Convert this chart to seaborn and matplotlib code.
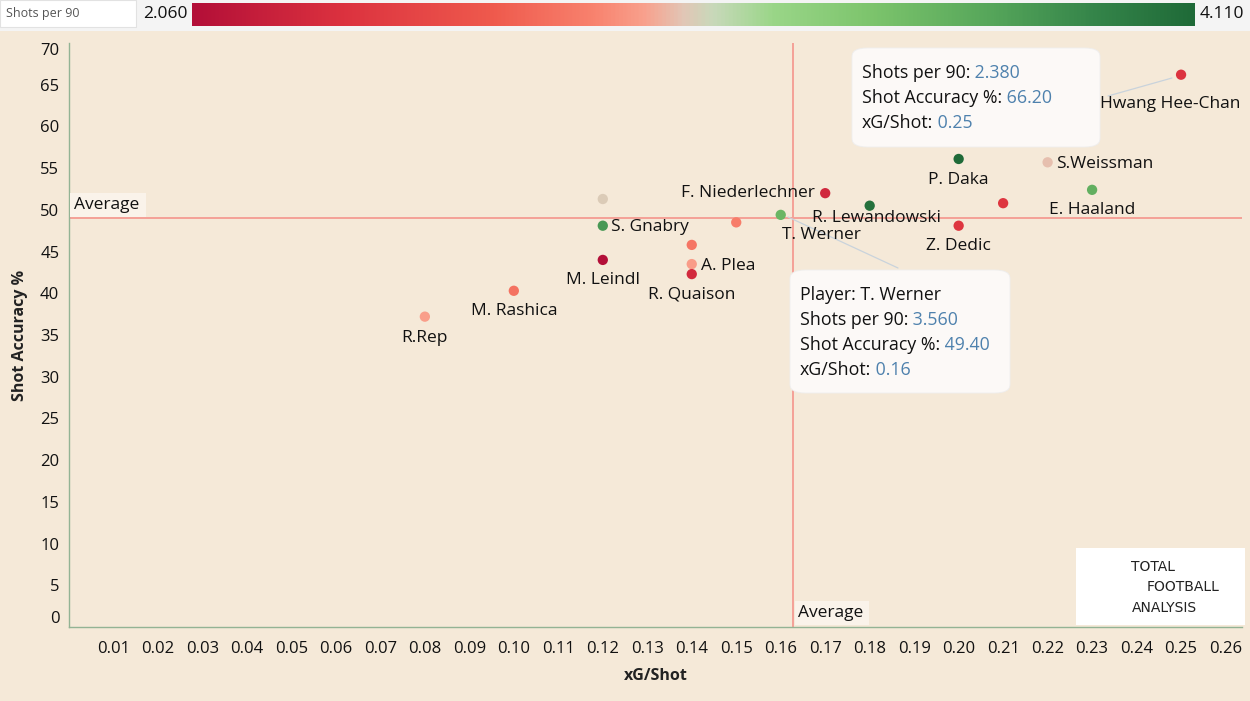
import numpy as np
import pandas as pd
import matplotlib.pyplot as plt
import seaborn as sns
from matplotlib.colors import LinearSegmentedColormap
from matplotlib.patches import FancyBboxPatch, Rectangle
from matplotlib.lines import Line2D

# Data
players = ['R.Rep', 'M. Rashica', 'M. Leindl', 'S. Gnabry', None, 'A. Plea', None,
           'R. Quaison', None, 'T. Werner', 'F. Niederlechner', 'R. Lewandowski',
           'P. Daka', 'Z. Dedic', None, 'S.Weissman', 'E. Haaland', 'Hwang Hee-Chan']
xg_per_shot = [0.08, 0.10, 0.12, 0.12, 0.12, 0.14, 0.14, 0.14, 0.15, 0.16, 0.17,
               0.18, 0.20, 0.20, 0.21, 0.22, 0.23, 0.25]
shot_accuracy = [37.2, 40.3, 44.0, 48.1, 51.3, 43.5, 45.8, 42.3, 48.5, 49.4, 52.0,
                 50.5, 56.1, 48.1, 50.8, 55.7, 52.4, 66.2]
shots_per_90 = [2.98, 2.80, 2.06, 3.78, 3.08, 2.97, 2.82, 2.30, 2.86, 3.56, 2.28,
                4.05, 4.11, 2.40, 2.40, 3.05, 3.62, 2.38]
avg_xg = 0.1628
avg_acc = 49.0
spg_min, spg_max = 2.060, 4.110
x_ticks = [round(0.01 * i, 2) for i in range(1, 27)]
y_ticks = list(range(0, 75, 5))

# label offsets in pixels (dx, dy, ha)
label_pos = {
    'R.Rep': (0, -21, 'center'), 'M. Rashica': (0, -20, 'center'),
    'M. Leindl': (0, -20, 'center'), 'S. Gnabry': (8, -1, 'left'),
    'A. Plea': (9, -2, 'left'), 'R. Quaison': (0, -20, 'center'),
    'T. Werner': (41, -20, 'center'), 'F. Niederlechner': (-10, 0, 'right'),
    'R. Lewandowski': (7, -12, 'center'), 'P. Daka': (0, -21, 'center'),
    'Z. Dedic': (0, -20, 'center'), 'S.Weissman': (8, -2, 'left'),
    'E. Haaland': (0, -20, 'center'), 'Hwang Hee-Chan': (-11, -29, 'center'),
}

df = pd.DataFrame({'player': players, 'xg': xg_per_shot, 'acc': shot_accuracy, 'spg': shots_per_90})

bg = '#f5e9d8'
cmap = LinearSegmentedColormap.from_list('rg', [
    (0.0, '#b30f38'), (0.15, '#dc323f'), (0.3, '#ef5a4d'), (0.4, '#f8826e'),
    (0.45, '#f9a08c'), (0.49, '#e2c6b6'), (0.52, '#c8d9ba'), (0.58, '#9ad688'),
    (0.68, '#7cc46c'), (0.8, '#55a55a'), (0.9, '#35854a'), (1.0, '#1f6a38')])

sns.set_theme(style='white')
plt.rcParams['font.family'] = ['Open Sans', 'DejaVu Sans']
W, H = 1250, 701
fs = 12.5
fig = plt.figure(figsize=(12.5, 7.01), dpi=100, facecolor=bg)

def fx(px):
    return px / W

def fy(py):
    return 1 - py / H

# top legend strip
fig.patches.append(Rectangle((0, fy(31)), 1, 31 / H, transform=fig.transFigure,
                             facecolor='#f4f4f4', edgecolor='none', zorder=-2))
fig.patches.append(Rectangle((0, fy(27)), fx(136), 27 / H, transform=fig.transFigure,
                             facecolor='#ffffff', edgecolor='#e2e2e2', lw=0.8, zorder=-1))
fig.text(fx(6), fy(13), 'Shots per 90', fontsize=9, color='#555555', va='center')
fig.text(fx(188), fy(14), f'{spg_min:.3f}', fontsize=12.5, color='#111111', va='center', ha='right')
fig.text(fx(1200), fy(14), f'{spg_max:.3f}', fontsize=12.5, color='#111111', va='center', ha='left')
cax = fig.add_axes([fx(192), fy(26), fx(1195) - fx(192), 23 / H])
cax.imshow(np.linspace(0, 1, 512)[None, :], cmap=cmap, aspect='auto')
cax.set_axis_off()

# main scatter
ax = fig.add_axes([fx(69), fy(627), fx(1242) - fx(69), (627 - 43) / H], facecolor=bg)
sns.scatterplot(data=df, x='xg', y='acc', hue='spg', palette=cmap, hue_norm=(spg_min, spg_max),
                s=55, edgecolor='none', legend=False, ax=ax, zorder=3)
ax.axhline(avg_acc, color='#f4a197', lw=1.4, zorder=2)
ax.axvline(avg_xg, color='#f4a197', lw=1.4, zorder=2)
ax.set_xlim(0, 0.2637)
ax.set_ylim(0, 70)
ax.set_xticks(x_ticks)
ax.set_xticklabels([f'{t:.2f}' for t in x_ticks], fontsize=12)
ax.set_yticks(y_ticks)
ax.set_yticklabels([str(t) for t in y_ticks], fontsize=12)
ylabs = ax.get_yticklabels()
ylabs[0].set_va('bottom')
ylabs[-1].set_va('top')
ax.tick_params(axis='both', length=4, width=0.8, color='#8aa6c0', labelcolor='#111111')
ax.tick_params(axis='x', pad=6)
ax.tick_params(axis='y', pad=3)
for side in ['top', 'right']:
    ax.spines[side].set_visible(False)
for side in ['left', 'bottom']:
    ax.spines[side].set_color('#93b394')
    ax.spines[side].set_linewidth(1.0)
ax.set_xlabel('xG/Shot', fontsize=11.5, fontweight='bold', color='#222222', labelpad=8)
ax.set_ylabel('Shot Accuracy %', fontsize=11.5, fontweight='bold', color='#222222', labelpad=9)

for _, row in df.iterrows():
    if row['player'] is None:
        continue
    dx, dy, ha = label_pos[row['player']]
    ax.annotate(row['player'], (row['xg'], row['acc']), xytext=(dx, dy), textcoords='offset pixels',
                ha=ha, va='center', fontsize=fs, color='#111111', zorder=4)

# leader lines to the tooltips (under the labels)
ax.add_artist(Line2D([fx(1108), fx(1172)], [fy(96), fy(78)], transform=fig.transFigure,
                     color='#c9d3dc', lw=0.9, zorder=2.5, clip_on=False))
ax.add_artist(Line2D([fx(788), fx(898)], [fy(217), fy(268)], transform=fig.transFigure,
                     color='#c9d3dc', lw=0.9, zorder=2.5, clip_on=False))

# average labels
fig.patches.append(Rectangle((fx(70), fy(217)), fx(76), 24 / H, transform=fig.transFigure,
                             facecolor='#faf3ea', edgecolor='none', zorder=2))
fig.text(fx(74), fy(205), 'Average', fontsize=fs, va='center', color='#111111', zorder=5)
fig.patches.append(Rectangle((fx(795), fy(625)), fx(74), 24 / H, transform=fig.transFigure,
                             facecolor='#faf3ea', edgecolor='none', zorder=2))
fig.text(fx(798), fy(613), 'Average', fontsize=fs, va='center', color='#111111', zorder=5)

# tooltips
tfs = 12.8

def tooltip(x0, y0, x1, y1, lines):
    fig.patches.append(FancyBboxPatch((fx(x0), fy(y1)), fx(x1 - x0), (y1 - y0) / H,
                                      boxstyle='round,pad=0,rounding_size=0.012',
                                      transform=fig.transFigure, facecolor='#fcf9f7',
                                      edgecolor='#eeeeee', lw=0.6, zorder=6))
    for i, (lab, val) in enumerate(lines):
        t = fig.text(fx(x0 + 10), fy(y0 + 25 + 25 * i), lab, fontsize=tfs, va='center',
                     color='#111111', zorder=7)
        if val:
            a = plt.Annotation(' ' + val, xy=(1, 0.5), xycoords=t, va='center',
                               ha='left', fontsize=tfs, color='#4e81ad', zorder=7)
            a.set_figure(fig)
            fig.texts.append(a)

tooltip(852, 48, 1100, 147, [('Shots per 90:', f'{shots_per_90[17]:.3f}'),
                             ('Shot Accuracy %:', f'{shot_accuracy[17]:.2f}'),
                             ('xG/Shot:', f'{xg_per_shot[17]:.2f}')])
tooltip(790, 270, 1010, 393, [('Player: T. Werner', None),
                              ('Shots per 90:', f'{shots_per_90[9]:.3f}'),
                              ('Shot Accuracy %:', f'{shot_accuracy[9]:.2f}'),
                              ('xG/Shot:', f'{xg_per_shot[9]:.2f}')])

# logo box
fig.patches.append(Rectangle((fx(1076), fy(625)), fx(169), 77 / H, transform=fig.transFigure,
                             facecolor='white', edgecolor='none', zorder=6))
logo_font = ['Liberation Sans Narrow', 'DejaVu Sans']
fig.text(fx(1131), fy(567), 'TOTAL', fontsize=10, family=logo_font, color='#222222',
         va='center', zorder=7)
fig.text(fx(1147), fy(587), 'FOOTBALL', fontsize=10, family=logo_font, color='#222222',
         va='center', zorder=7)
fig.text(fx(1132), fy(608), 'ANALYSIS', fontsize=10, family=logo_font, color='#222222',
         va='center', zorder=7)

fig.savefig('out.png', dpi=100, facecolor=bg)
